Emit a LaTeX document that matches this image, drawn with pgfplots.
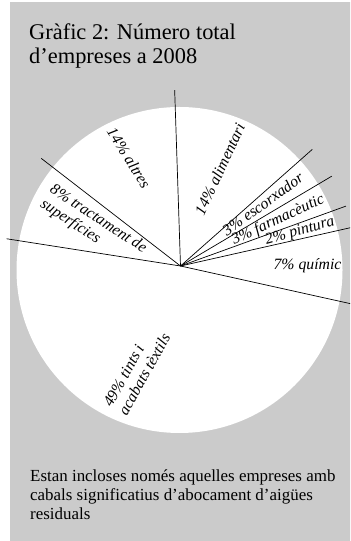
\documentclass[border=0pt]{standalone}
\usepackage{pgfplots}
\usepackage{pgfplotstable}
\pgfplotsset{compat=1.18}
\usepackage{fontspec}
\setmainfont{Liberation Serif}

\definecolor{boxgray}{RGB}{203,203,203}

% Share of companies per sector (percent), counter-clockwise
\pgfplotstableread{
sector      pct
quimic      7
pintura     2
farmaceutic 3
escorxador  3
alimentari  14
altres      14
tractament  8
tints       49
}\sectors

% cumulative share and the end point of each slice boundary
\pgfplotstablecreatecol[create col/expr accum={\pgfmathaccuma+\thisrow{pct}}{0}]{cum}{\sectors}
\pgfplotstablecreatecol[create col/expr={176*cos(-12.5+3.6*\thisrow{cum})}]{u}{\sectors}
\pgfplotstablecreatecol[create col/expr={176*sin(-12.5+3.6*\thisrow{cum})}]{v}{\sectors}

\begin{document}
\begin{tikzpicture}
\begin{axis}[
  x=1bp, y=1bp,
  xmin=-180.5, xmax=169.5,
  ymin=-275, ymax=266,
  hide axis,
  clip=true,
]
  % panel background and pie disc
  \fill[boxgray] (axis cs:-170.5,264) rectangle (axis cs:172,-277);
  \fill[white] (axis cs:-1,-4) circle[radius=163];

  % slice boundaries
  \addplot[black, line width=0.7bp,
    quiver={u=\thisrow{u}, v=\thisrow{v}}]
    table[x expr=0, y expr=0] {\sectors};

  % title
  \node[anchor=base west, inner sep=0pt, font=\fontsize{22.5}{24}\selectfont]
    at (axis cs:-151.5,226.7) {Gràfic 2: Número total};
  \node[anchor=base west, inner sep=0pt, font=\fontsize{22.5}{24}\selectfont]
    at (axis cs:-151.5,202.7) {d’empreses a 2008};

  % slice labels
  \begin{scope}[every node/.style={inner sep=0pt,
      font=\fontsize{15.8}{17.5}\selectfont\itshape}]
    \node[rotate=-58] at (axis cs:-51.5,108) {14\% altres};
    \node[rotate=65]  at (axis cs:39.3,96.8) {14\% alimentari};
    \node[rotate=36]  at (axis cs:82.3,62.0) {3\% escorxador};
    \node[rotate=25]  at (axis cs:97.6,46.0) {3\% farmacèutic};
    \node[rotate=16]  at (axis cs:119.5,34.5) {2\% pintura};
    \node             at (axis cs:127,0) {7\% químic};
    \node[rotate=-33, align=left] at (axis cs:-87.1,39.4)
      {8\% tractament de\\superfícies};
    \node[rotate=61, align=left] at (axis cs:-43.8,-104.1)
      {49\% tints i\\acabats tèxtils};
  \end{scope}

  % note
  \begin{scope}[every node/.style={anchor=base west, inner sep=0pt,
      font=\fontsize{17}{19}\selectfont}]
    \node at (axis cs:-150.5,-215.7) {Estan incloses només aquelles empreses amb};
    \node at (axis cs:-150.5,-234.7) {cabals significatius d’abocament d’aigües};
    \node at (axis cs:-150.5,-254) {residuals};
  \end{scope}

  \coordinate (sw) at (rel axis cs:0,0);
  \coordinate (ne) at (rel axis cs:1,1);
\end{axis}
\pgfresetboundingbox
\path (sw) rectangle (ne);
\end{tikzpicture}
\end{document}
